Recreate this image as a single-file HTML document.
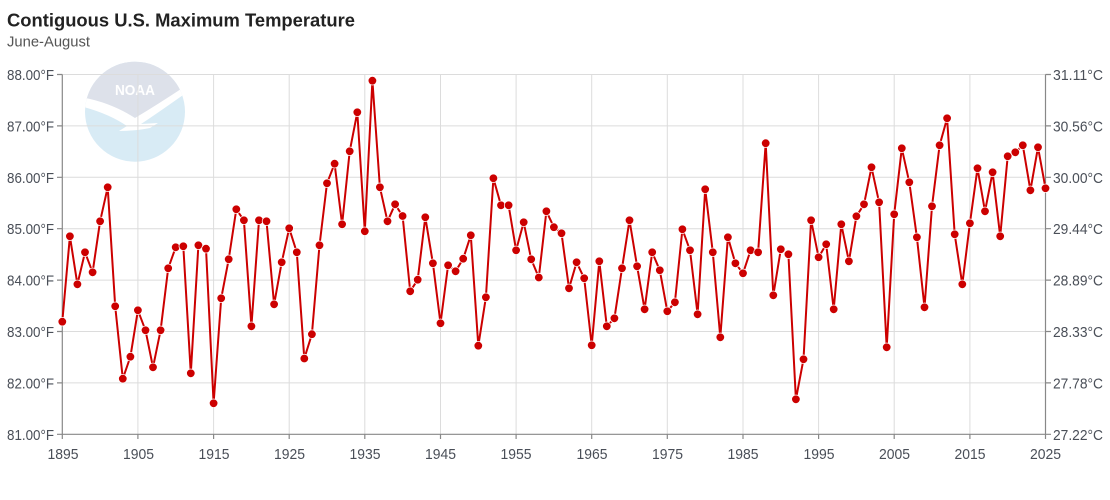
<!DOCTYPE html>
<html><head><meta charset="utf-8"><style>
html,body{margin:0;padding:0;background:#fff;}
svg{display:block;font-family:"Liberation Sans",sans-serif;}
</style></head><body>
<svg width="1110" height="500" viewBox="0 0 1110 500" xmlns="http://www.w3.org/2000/svg">
<defs>
<clipPath id="cc"><circle cx="135" cy="111.7" r="50"/></clipPath>
<marker id="dot" markerUnits="userSpaceOnUse" markerWidth="12" markerHeight="12" refX="6" refY="6" viewBox="0 0 12 12"><circle cx="6" cy="6" r="4.3" fill="#cc0000" stroke="#fff" stroke-width="0.8"/></marker>
</defs>
<rect width="1110" height="500" fill="#fff"/>
<text x="7" y="26.5" font-size="18" font-weight="bold" fill="#222" textLength="348" lengthAdjust="spacingAndGlyphs">Contiguous U.S. Maximum Temperature</text>
<text x="7" y="46.5" font-size="14.5" fill="#555" textLength="83" lengthAdjust="spacingAndGlyphs">June-August</text>
<!-- logo -->
<g clip-path="url(#cc)">
<rect x="80" y="55" width="110" height="115" fill="#d8ebf5"/>
<path d="M80,98 Q110,103 135,118 Q160,104 190,84 L190,55 L80,55 Z" fill="#dde1ea"/>
<path d="M80,97 Q110,102 135,118 Q160,103 190,83 L190,90 Q162,110 141,124 L158,123 L150,128 Q135,131 119,131 L127,126 Q108,113 80,106 Z" fill="#fff"/>
</g>
<text x="135" y="95" font-size="15" font-weight="bold" fill="#fff" text-anchor="middle" textLength="40" lengthAdjust="spacingAndGlyphs">NOAA</text>
<!-- grid -->
<g stroke="#dcdcdc" stroke-width="1">
<line x1="62.3" x2="1045.5" y1="74.5" y2="74.5"/>
<line x1="62.3" x2="1045.5" y1="125.9" y2="125.9"/>
<line x1="62.3" x2="1045.5" y1="177.3" y2="177.3"/>
<line x1="62.3" x2="1045.5" y1="228.7" y2="228.7"/>
<line x1="62.3" x2="1045.5" y1="280.1" y2="280.1"/>
<line x1="62.3" x2="1045.5" y1="331.5" y2="331.5"/>
<line x1="62.3" x2="1045.5" y1="382.9" y2="382.9"/>
<line x1="137.9" x2="137.9" y1="74.5" y2="434.3"/>
<line x1="213.6" x2="213.6" y1="74.5" y2="434.3"/>
<line x1="289.2" x2="289.2" y1="74.5" y2="434.3"/>
<line x1="364.8" x2="364.8" y1="74.5" y2="434.3"/>
<line x1="440.5" x2="440.5" y1="74.5" y2="434.3"/>
<line x1="516.1" x2="516.1" y1="74.5" y2="434.3"/>
<line x1="591.7" x2="591.7" y1="74.5" y2="434.3"/>
<line x1="667.3" x2="667.3" y1="74.5" y2="434.3"/>
<line x1="743.0" x2="743.0" y1="74.5" y2="434.3"/>
<line x1="818.6" x2="818.6" y1="74.5" y2="434.3"/>
<line x1="894.2" x2="894.2" y1="74.5" y2="434.3"/>
<line x1="969.9" x2="969.9" y1="74.5" y2="434.3"/>
</g>
<!-- axes -->
<g stroke="#888" stroke-width="1.2" fill="none">
<line x1="62.3" x2="62.3" y1="74.5" y2="434.3"/>
<line x1="1045.5" x2="1045.5" y1="74.5" y2="434.3"/>
<line x1="62.3" x2="1045.5" y1="434.3" y2="434.3"/>
<path d="M57,74.5H62.3M57,125.9H62.3M57,177.3H62.3M57,228.7H62.3M57,280.1H62.3M57,331.5H62.3M57,382.9H62.3M57,434.3H62.3"/>
<path d="M1045.5,74.5H1051M1045.5,125.9H1051M1045.5,177.3H1051M1045.5,228.7H1051M1045.5,280.1H1051M1045.5,331.5H1051M1045.5,382.9H1051M1045.5,434.3H1051"/>
<path d="M62.3,434.3V439M137.9,434.3V439M213.6,434.3V439M289.2,434.3V439M364.8,434.3V439M440.5,434.3V439M516.1,434.3V439M591.7,434.3V439M667.3,434.3V439M743,434.3V439M818.6,434.3V439M894.2,434.3V439M969.9,434.3V439M1045.5,434.3V439"/>
</g>
<g font-size="15" fill="#4a4f58" text-anchor="end">
<text x="54" y="80" textLength="47" lengthAdjust="spacingAndGlyphs">88.00°F</text>
<text x="54" y="131.4" textLength="47" lengthAdjust="spacingAndGlyphs">87.00°F</text>
<text x="54" y="182.8" textLength="47" lengthAdjust="spacingAndGlyphs">86.00°F</text>
<text x="54" y="234.2" textLength="47" lengthAdjust="spacingAndGlyphs">85.00°F</text>
<text x="54" y="285.6" textLength="47" lengthAdjust="spacingAndGlyphs">84.00°F</text>
<text x="54" y="337" textLength="47" lengthAdjust="spacingAndGlyphs">83.00°F</text>
<text x="54" y="388.4" textLength="47" lengthAdjust="spacingAndGlyphs">82.00°F</text>
<text x="54" y="439.8" textLength="47" lengthAdjust="spacingAndGlyphs">81.00°F</text>
</g>
<g font-size="15" fill="#4a4f58">
<text x="1053" y="80" textLength="50" lengthAdjust="spacingAndGlyphs">31.11°C</text>
<text x="1053" y="131.4" textLength="50" lengthAdjust="spacingAndGlyphs">30.56°C</text>
<text x="1053" y="182.8" textLength="50" lengthAdjust="spacingAndGlyphs">30.00°C</text>
<text x="1053" y="234.2" textLength="50" lengthAdjust="spacingAndGlyphs">29.44°C</text>
<text x="1053" y="285.6" textLength="50" lengthAdjust="spacingAndGlyphs">28.89°C</text>
<text x="1053" y="337" textLength="50" lengthAdjust="spacingAndGlyphs">28.33°C</text>
<text x="1053" y="388.4" textLength="50" lengthAdjust="spacingAndGlyphs">27.78°C</text>
<text x="1053" y="439.8" textLength="50" lengthAdjust="spacingAndGlyphs">27.22°C</text>
</g>
<g font-size="15" fill="#4a4f58" text-anchor="middle">
<text x="63" y="459" textLength="31" lengthAdjust="spacingAndGlyphs">1895</text>
<text x="138.5" y="459" textLength="31" lengthAdjust="spacingAndGlyphs">1905</text>
<text x="214" y="459" textLength="31" lengthAdjust="spacingAndGlyphs">1915</text>
<text x="289.5" y="459" textLength="31" lengthAdjust="spacingAndGlyphs">1925</text>
<text x="365" y="459" textLength="31" lengthAdjust="spacingAndGlyphs">1935</text>
<text x="440.5" y="459" textLength="31" lengthAdjust="spacingAndGlyphs">1945</text>
<text x="516" y="459" textLength="31" lengthAdjust="spacingAndGlyphs">1955</text>
<text x="592" y="459" textLength="31" lengthAdjust="spacingAndGlyphs">1965</text>
<text x="667.5" y="459" textLength="31" lengthAdjust="spacingAndGlyphs">1975</text>
<text x="743" y="459" textLength="31" lengthAdjust="spacingAndGlyphs">1985</text>
<text x="819" y="459" textLength="31" lengthAdjust="spacingAndGlyphs">1995</text>
<text x="894.5" y="459" textLength="31" lengthAdjust="spacingAndGlyphs">2005</text>
<text x="970" y="459" textLength="31" lengthAdjust="spacingAndGlyphs">2015</text>
<text x="1045.5" y="459" textLength="31" lengthAdjust="spacingAndGlyphs">2025</text>
</g>
<polyline fill="none" stroke="#cc0000" stroke-width="2" stroke-linejoin="round" marker-start="url(#dot)" marker-mid="url(#dot)" marker-end="url(#dot)" points="
62.3,321.7 69.9,236.3 77.4,284.3 85.0,252.3 92.6,272.3 100.1,221.3 107.7,187.3 115.2,306.3 122.8,378.7 130.4,356.7
137.9,310.3 145.5,330.3 153.0,367.3 160.6,330.3 168.2,268.3 175.7,247.3 183.3,246.3 190.8,373.3 198.4,245.3 206.0,248.7
213.6,403.3 221.2,298.3 228.7,259.3 236.3,209.3 243.9,220.3 251.4,326.3 259.0,220.3 266.5,221.3 274.1,304.3 281.7,262.3
289.2,228.3 296.8,252.3 304.3,358.5 311.9,334.2 319.5,245.3 327.0,183.3 334.6,163.7 342.1,224.3 349.7,151.3 357.3,112.3
364.8,231.3 372.4,80.7 379.9,187.3 387.5,221.3 395.1,204.3 402.6,216 410.2,291.3 417.7,279.7 425.3,217.3 432.9,263.3
440.5,323.3 448.1,265.3 455.6,271.3 463.2,258.7 470.8,235.3 478.3,345.7 485.9,297.3 493.4,178.3 501.0,205.3 508.6,205.3
516.1,250.3 523.7,222.3 531.2,259.3 538.8,277.5 546.4,211.3 553.9,227.2 561.5,233.3 569.0,288.3 576.6,262.3 584.2,278.3
591.7,345.3 599.3,261.3 606.8,326.3 614.4,318.3 622.0,268.3 629.5,220.3 637.1,266.3 644.6,309.3 652.2,252.3 659.8,270.3
667.3,311.3 674.9,302.3 682.4,229.3 690.0,250.3 697.6,314.3 705.2,189.3 712.8,252.3 720.3,337.3 727.9,237.3 735.4,263.3
743.0,273.3 750.6,250.3 758.1,252.3 765.7,143.2 773.3,295.3 780.8,249.3 788.4,254.3 795.9,399.3 803.5,359.3 811.1,220.3
818.6,257.3 826.2,244.3 833.7,309.3 841.3,224.3 848.9,261.3 856.4,216.3 864.0,204.3 871.5,167.3 879.1,202.3 886.7,347.3
894.2,214.3 901.8,148.3 909.3,182.3 916.9,237.3 924.5,307.3 932.0,206.3 939.6,145.3 947.1,118.3 954.7,234.3 962.3,284.3
969.9,223.3 977.5,168.3 985.0,211.3 992.6,172.3 1000.2,236.3 1007.7,156.3 1015.3,152.3 1022.8,145.3 1030.4,190.3 1038.0,147.3
1045.5,188.3"/>
</svg>
</body></html>
